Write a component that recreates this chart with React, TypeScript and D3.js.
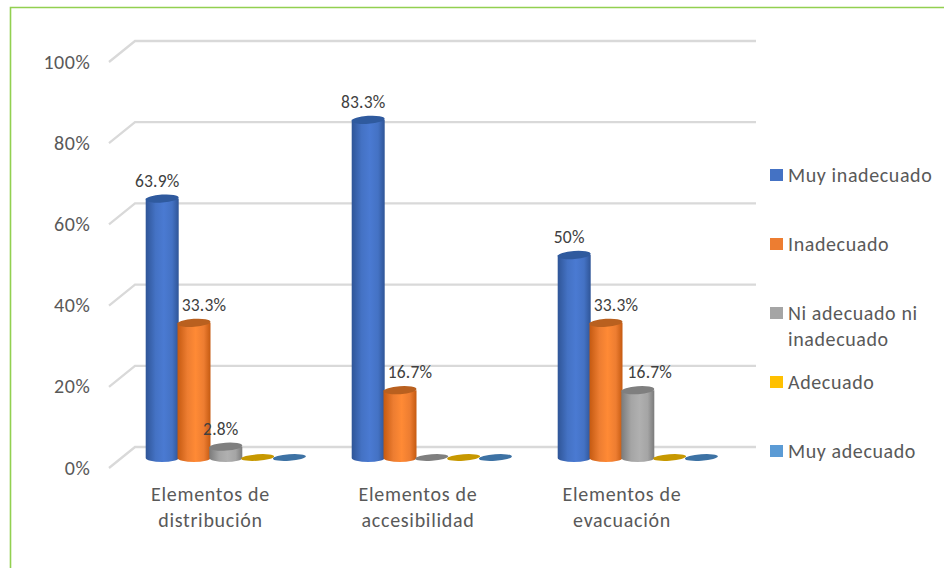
import React from "react";
import * as d3 from "d3";

const categories = [["Elementos de", "distribución"], ["Elementos de", "accesibilidad"], ["Elementos de", "evacuación"]];
const seriesNames = ["Muy inadecuado", "Inadecuado", "Ni adecuado ni inadecuado", "Adecuado", "Muy adecuado"];
const muyInadecuado = [63.9, 83.3, 50];
const inadecuado = [33.3, 16.7, 33.3];
const niAdecuado = [2.8, 0, 16.7];
const adecuado = [0, 0, 0];
const muyAdecuado = [0, 0, 0];
const seriesValues = [muyInadecuado, inadecuado, niAdecuado, adecuado, muyAdecuado];
const labelTexts = [["63.9%", "83.3%", "50%"], ["33.3%", "16.7%", "33.3%"], ["2.8%", null, "16.7%"]];
const yTicks = [0, 20, 40, 60, 80, 100];
const legendLines = [["Muy inadecuado"], ["Inadecuado"], ["Ni adecuado ni", "inadecuado"], ["Adecuado"], ["Muy adecuado"]];

const sideColors = ["#2f5597", "#c55a11", "#7b7b7b", "#bf9000", "#2e75b6"];
const midColors = ["#4472c4", "#ed7d31", "#a5a5a5", "#ffc000", "#5b9bd5"];
const lightColors = ["#4a7ad2", "#ff8a35", "#b0b0b0", "#ffc000", "#5b9bd5"];
const capColors = ["#2f5a9e", "#b9601f", "#7f7f7f", "#c79800", "#3d72a4"];
const legendColors = ["#4472c4", "#ed7d31", "#a5a5a5", "#ffc000", "#5b9bd5"];
const legendY = [175, 244, 313, 382, 451];

const font = "Carlito, Lato, 'Open Sans', sans-serif";
const textColor = "#595959";

export default function App() {
  const yBack = d3.scaleLinear().domain([0, 100]).range([447, 41]);
  const yBar = d3.scaleLinear().domain([0, 100]).range([458, 52]);
  const xGroup = d3.scaleLinear().domain([0, 1]).range([145.7, 351.7]);
  const xBar = d3.scaleLinear().domain([0, 1]).range([0, 31.8]);
  const bw = 33;
  const rx = bw / 2;
  const ry = 4;

  return (
    <svg width={944} height={568} style={{ position: "absolute", left: 0, top: 0, background: "#fff" }}>
      <defs>
        {midColors.map((c, i) => (
          <linearGradient key={i} id={`g${i}`} x1="0" x2="1" y1="0" y2="0">
            <stop offset="0" stopColor={sideColors[i]} />
            <stop offset="0.3" stopColor={c} />
            <stop offset="0.55" stopColor={lightColors[i]} />
            <stop offset="0.8" stopColor={c} />
            <stop offset="1" stopColor={sideColors[i]} />
          </linearGradient>
        ))}
      </defs>
      <path d="M10.5,568V7.5H944" fill="none" stroke="#92d050" strokeWidth={1.6} />
      {yTicks.map((t) => (
        <path key={t} d={`M109,${yBack(t) + 21}L135,${yBack(t)}H756`} fill="none" stroke="#d9d9d9" strokeWidth={2.3} />
      ))}
      {yTicks.map((t) => (
        <text key={t} x={90.5} y={yBack(t) + 27.5} textAnchor="end" fontFamily={font} fontSize={20} letterSpacing={0.6} fill={textColor}>{t}%</text>
      ))}
      {categories.map((cat, g) => (
        <g key={g}>
          {seriesValues.map((vals, s) => {
            const v = vals[g];
            const x = xGroup(g) + xBar(s);
            const top = yBar(v);
            const bottom = yBar(0);
            const cx = x + rx;
            const cy = v > 0 ? top : bottom - 0.5;
            return (
              <g key={s}>
                {v > 0 && (
                  <path
                    d={`M${x},${top}V${bottom}A${rx},${ry} 0 0 0 ${x + bw},${bottom}V${top}Z`}
                    fill={`url(#g${s})`}
                  />
                )}
                <ellipse cx={cx} cy={cy} rx={rx} ry={v > 0 ? ry : 3.2} fill={capColors[s]} transform={`rotate(-4 ${cx} ${cy})`} />
              </g>
            );
          })}
          {labelTexts.map((row, s) => {
            const t = row[g];
            if (!t) return null;
            const x = xGroup(g) + xBar(s) + rx + (s === 0 ? (t === "50%" ? -5 : -5) : s === 1 ? 10 : s === 2 ? (g === 0 ? -5 : 12) : 0);
            return (
              <text key={s} x={x} y={yBar(seriesValues[s][g]) - 12} textAnchor="middle" fontFamily={font} fontSize={17.5} letterSpacing={0.2} fill="#404040">{t}</text>
            );
          })}
          {cat.map((line, i) => (
            <text key={i} x={[210.5, 418, 622][g]} y={501 + i * 26} textAnchor="middle" fontFamily={font} fontSize={20} letterSpacing={0.7} fill={textColor}>{line}</text>
          ))}
        </g>
      ))}
      {seriesNames.map((n, i) => (
        <g key={n}>
          <rect x={770} y={legendY[i] - 6} width={13} height={12} fill={legendColors[i]} />
          {legendLines[i].map((l, j) => (
            <text key={j} x={788} y={legendY[i] + 7 + j * 26} fontFamily={font} fontSize={20} letterSpacing={0.6} fill={textColor}>{l}</text>
          ))}
        </g>
      ))}
    </svg>
  );
}
